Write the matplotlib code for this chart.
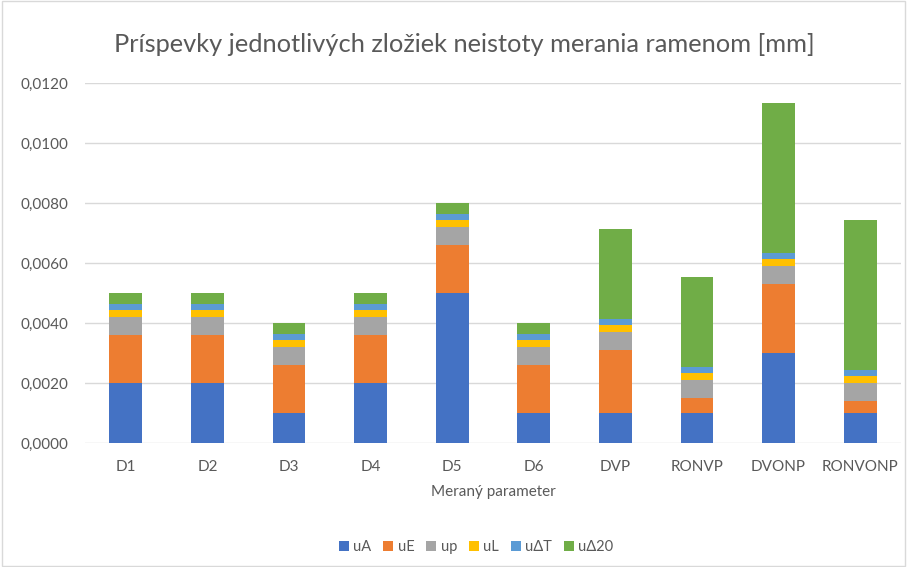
import numpy as np
from matplotlib import pyplot as plt
from matplotlib.ticker import FuncFormatter

categories = ['D1', 'D2', 'D3', 'D4', 'D5', 'D6', 'DVP', 'RONVP', 'DVONP', 'RONVONP']
series_names = ['uA', 'uE', 'up', 'uL', 'uΔT', 'uΔ20']

uA = [0.0020, 0.0020, 0.0010, 0.0020, 0.0050, 0.0010, 0.0010, 0.0010, 0.0030, 0.0010]
uE = [0.0016, 0.0016, 0.0016, 0.0016, 0.0016, 0.0016, 0.0021, 0.0005, 0.0023, 0.0004]
up = [0.0006, 0.0006, 0.0006, 0.0006, 0.0006, 0.0006, 0.0006, 0.0006, 0.0006, 0.0006]
uL = [0.00025] * 10
uDT = [0.0002] * 10
uD20 = [0.00035, 0.00035, 0.00035, 0.00035, 0.00035, 0.00035, 0.0030, 0.0030, 0.0050, 0.0050]

colors = ['#4472c4', '#ed7d31', '#a5a5a5', '#ffc000', '#5b9bd5', '#70ad47']

plt.rcParams['font.family'] = ['Lato', 'DejaVu Sans']
text_col = '#595959'

fig = plt.figure(figsize=(9.07, 5.67), dpi=100)
ax = fig.add_axes([85 / 907, 1 - 443 / 567, 816 / 907, 360 / 567])

x = np.arange(len(categories))
bottom = np.zeros(len(categories))
for name, vals, c in zip(series_names, [uA, uE, up, uL, uDT, uD20], colors):
    ax.bar(x, vals, 0.4, bottom=bottom, color=c, label=name, zorder=3)
    bottom += np.array(vals)

ax.set_xlim(-0.5, len(categories) - 0.5)
ax.set_ylim(0, 0.012)
ax.set_yticks(np.arange(0, 0.0121, 0.002))
ax.yaxis.set_major_formatter(FuncFormatter(lambda v, p: ('%.4f' % v).replace('.', ',')))
ax.set_xticks(x)
ax.set_xticklabels(categories)
ax.grid(axis='y', color='#d9d9d9', linewidth=1, zorder=0)
for s in ax.spines.values():
    s.set_visible(False)
ax.tick_params(length=0, colors=text_col, labelsize=11)
ax.tick_params(axis='x', pad=12)
ax.tick_params(axis='y', pad=12)

ax.set_xlabel('Meraný parameter', color=text_col, fontsize=11, labelpad=8)
fig.text(0.512, 0.921, 'Príspevky jednotlivých zložiek neistoty merania ramenom [mm]',
         ha='center', va='center', fontsize=18.3, color=text_col)

fig.legend(loc='center', bbox_to_anchor=(0.525, 1 - 547 / 567), ncol=6, frameon=False,
           fontsize=10.5, labelcolor=text_col, handlelength=0.7, handleheight=0.7,
           handletextpad=0.3, columnspacing=0.8)

border = plt.Rectangle((0.002, 0.002), 0.996, 0.996, transform=fig.transFigure,
                       fill=False, edgecolor='#d9d9d9', linewidth=1)
fig.patches.append(border)

plt.savefig('out.png', dpi=100)
